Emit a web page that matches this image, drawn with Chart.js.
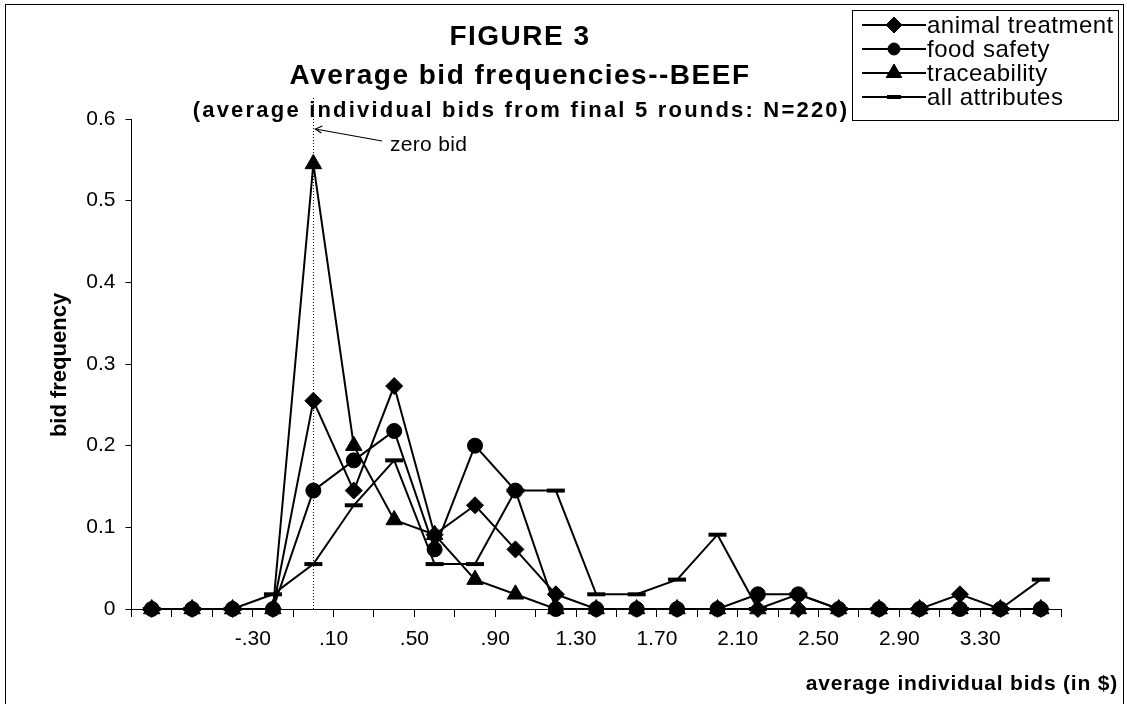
<!DOCTYPE html>
<html lang="en">
<head>
    <meta charset="UTF-8">
    <title>FIGURE 3 - Average bid frequencies--BEEF</title>
    <script src="https://cdn.jsdelivr.net/npm/chart.js"></script>
    <style>
        html, body { margin: 0; padding: 0; background: #fff; }
        #wrap { width: 1127px; height: 704px; }
    </style>
</head>
<body>
    <div id="wrap">
        <canvas id="bidChart" width="1127" height="704"></canvas>
    </div>

    <script>
    // bin centres of the average individual bid (in $)
    var bidBins = [-0.8, -0.6, -0.4, -0.2, 0.0, 0.2, 0.4, 0.6, 0.8, 1.0, 1.2, 1.4,
                   1.6, 1.8, 2.0, 2.2, 2.4, 2.6, 2.8, 3.0, 3.2, 3.4, 3.6];

    var animalTreatment = [0, 0, 0, 0, 0.255, 0.145, 0.273, 0.091, 0.127, 0.073, 0.018, 0,
                           0, 0, 0, 0, 0, 0, 0, 0, 0.018, 0, 0];
    var foodSafety      = [0, 0, 0, 0, 0.145, 0.182, 0.218, 0.073, 0.200, 0.145, 0, 0,
                           0, 0, 0, 0.018, 0.018, 0, 0, 0, 0, 0, 0];
    var traceability    = [0, 0, 0, 0, 0.545, 0.200, 0.109, 0.091, 0.036, 0.018, 0, 0,
                           0, 0, 0, 0, 0, 0, 0, 0, 0, 0, 0];
    var allAttributes   = [0, 0, 0, 0.018, 0.055, 0.127, 0.182, 0.055, 0.055, 0.145, 0.145, 0.018,
                           0.018, 0.036, 0.091, 0, 0.018, 0, 0, 0, 0, 0, 0.036];

    // tick labels sit on the bin edges
    var xLabelAt = [-0.3, 0.1, 0.5, 0.9, 1.3, 1.7, 2.1, 2.5, 2.9, 3.3];
    var xLabels  = ['-.30', '.10', '.50', '.90', '1.30', '1.70', '2.10', '2.50', '2.90', '3.30'];
    var yTicks   = [0, 0.1, 0.2, 0.3, 0.4, 0.5, 0.6];

    var zeroBid = 0;
    var seriesNames = ['animal treatment', 'food safety', 'traceability', 'all attributes'];

    var FONT = '"Liberation Sans", Arial, Helvetica, sans-serif';

    function toPoints(values) {
        return values.map(function (v, i) { return { x: bidBins[i], y: v }; });
    }

    var binEdges = bidBins.map(function (b) { return Math.round((b - 0.1) * 10) / 10; });
    binEdges.push(Math.round((bidBins[bidBins.length - 1] + 0.1) * 10) / 10);

    var markers = [
        { pointStyle: 'rectRot', radius: 8.5, borderWidth: 1, legendRadius: 8, legendBorder: 1 },
        { pointStyle: 'circle', radius: 7.5, borderWidth: 1, legendRadius: 6, legendBorder: 1 },
        { pointStyle: 'triangle', radius: 9.5, borderWidth: 1, legendRadius: 9, legendBorder: 1 },
        { pointStyle: 'line', radius: 9, borderWidth: 4, legendRadius: 7, legendBorder: 4 }
    ];
    var seriesData = [animalTreatment, foodSafety, traceability, allAttributes];

    var datasets = seriesData.map(function (vals, i) {
        return {
            label: seriesNames[i],
            data: toPoints(vals),
            borderColor: '#000',
            backgroundColor: '#000',
            borderWidth: 2,
            tension: 0,
            pointStyle: markers[i].pointStyle,
            pointRadius: markers[i].radius,
            pointBorderWidth: markers[i].borderWidth,
            pointBackgroundColor: '#000',
            pointBorderColor: '#000',
            clip: false
        };
    });

    function spaced(ctx, px) {
        if ('letterSpacing' in ctx) ctx.letterSpacing = px + 'px';
    }

    // titles, zero-bid marker, legend box and frame
    var decorations = {
        id: 'decorations',
        beforeDatasetsDraw: function (chart) {
            var ctx = chart.ctx;
            var x = chart.scales.x.getPixelForValue(zeroBid);
            ctx.save();
            ctx.strokeStyle = '#000';
            ctx.lineWidth = 1;
            ctx.setLineDash([1, 2]);
            ctx.beginPath();
            ctx.moveTo(Math.round(x) + 0.5, 98);
            ctx.lineTo(Math.round(x) + 0.5, chart.chartArea.bottom);
            ctx.stroke();
            ctx.restore();
        },
        afterDraw: function (chart) {
            var ctx = chart.ctx;
            var x0 = chart.scales.x.getPixelForValue(zeroBid);
            ctx.save();
            ctx.fillStyle = '#000';
            ctx.strokeStyle = '#000';

            // outer frame
            ctx.lineWidth = 1;
            ctx.strokeRect(5.5, 4.5, 1118, 710);

            // titles
            ctx.textAlign = 'center';
            ctx.textBaseline = 'middle';
            ctx.font = 'bold 28px ' + FONT;
            spaced(ctx, 1.5);
            ctx.fillText('FIGURE 3', 520, 37);
            ctx.fillText('Average bid frequencies--BEEF', 520, 76);
            ctx.font = 'bold 22px ' + FONT;
            spaced(ctx, 2.2);
            ctx.fillText('(average individual bids from final 5 rounds: N=220)', 521, 111);

            // axis titles
            ctx.font = 'bold 21px ' + FONT;
            spaced(ctx, 0.8);
            ctx.textAlign = 'right';
            ctx.fillText('average individual bids (in $)', 1118, 684);
            ctx.save();
            ctx.translate(60, 365);
            ctx.rotate(-Math.PI / 2);
            ctx.textAlign = 'center';
            ctx.font = 'bold 22px ' + FONT;
            spaced(ctx, 0);
            ctx.fillText('bid frequency', 0, 0);
            ctx.restore();

            // zero bid note with arrow
            ctx.font = '21px ' + FONT;
            spaced(ctx, 0.3);
            ctx.textAlign = 'left';
            ctx.fillText('zero bid', 390, 145);
            ctx.lineWidth = 1.2;
            ctx.beginPath();
            ctx.moveTo(382, 141);
            ctx.lineTo(x0 + 2, 129);
            ctx.stroke();
            ctx.beginPath();
            ctx.moveTo(x0 + 9, 126);
            ctx.lineTo(x0 + 2, 129);
            ctx.lineTo(x0 + 8, 133);
            ctx.stroke();

            // legend
            var lx = 852, ly = 10, lw = 266, lh = 110;
            ctx.fillStyle = '#fff';
            ctx.fillRect(lx, ly, lw, lh);
            ctx.lineWidth = 1;
            ctx.strokeRect(lx + 0.5, ly + 0.5, lw, lh);
            ctx.fillStyle = '#000';
            ctx.font = '24px ' + FONT;
            spaced(ctx, 0.5);
            ctx.textAlign = 'left';
            chart.data.datasets.forEach(function (ds, i) {
                var y = 25 + i * 24;
                ctx.lineWidth = 2;
                ctx.beginPath();
                ctx.moveTo(862, y);
                ctx.lineTo(926, y);
                ctx.stroke();
                ctx.lineWidth = markers[i].legendBorder;
                Chart.helpers.drawPoint(ctx, {
                    pointStyle: ds.pointStyle,
                    radius: markers[i].legendRadius,
                    rotation: 0,
                    borderWidth: markers[i].legendBorder
                }, 894, y);
                ctx.fillText(ds.label, 927, y + 1);
            });
            ctx.restore();
        }
    };

    var ctx = document.getElementById('bidChart').getContext('2d');
    var bidChart = new Chart(ctx, {
        type: 'line',
        data: { datasets: datasets },
        options: {
            responsive: false,
            animation: false,
            layout: { padding: { left: 0, top: 119, right: 66, bottom: 0 } },
            plugins: {
                legend: { display: false },
                tooltip: { enabled: false }
            },
            scales: {
                x: {
                    type: 'linear',
                    min: binEdges[0],
                    max: binEdges[binEdges.length - 1],
                    afterBuildTicks: function (scale) {
                        scale.ticks = binEdges.map(function (v) { return { value: v }; });
                    },
                    afterFit: function (scale) { scale.height = 95; },
                    border: { display: true, color: '#000', width: 1 },
                    grid: {
                        display: true,
                        drawOnChartArea: false,
                        drawTicks: true,
                        tickLength: 8,
                        color: '#000',
                        lineWidth: 1
                    },
                    ticks: {
                        autoSkip: false,
                        maxRotation: 0,
                        padding: 10,
                        color: '#000',
                        font: { family: FONT, size: 21 },
                        callback: function (value) {
                            for (var i = 0; i < xLabelAt.length; i++) {
                                if (Math.abs(value - xLabelAt[i]) < 1e-6) return xLabels[i];
                            }
                            return '';
                        }
                    }
                },
                y: {
                    min: 0,
                    max: 0.6,
                    afterBuildTicks: function (scale) {
                        scale.ticks = yTicks.map(function (v) { return { value: v }; });
                    },
                    afterFit: function (scale) { scale.width = 131.5; },
                    border: { display: true, color: '#000', width: 1 },
                    grid: {
                        display: true,
                        drawOnChartArea: false,
                        drawTicks: true,
                        tickLength: 6,
                        color: '#000',
                        lineWidth: 1
                    },
                    ticks: {
                        padding: 10,
                        color: '#000',
                        font: { family: FONT, size: 21 },
                        callback: function (value) {
                            return value === 0 ? '0' : value.toFixed(1);
                        }
                    }
                }
            }
        },
        plugins: [decorations]
    });
    </script>
</body>
</html>
